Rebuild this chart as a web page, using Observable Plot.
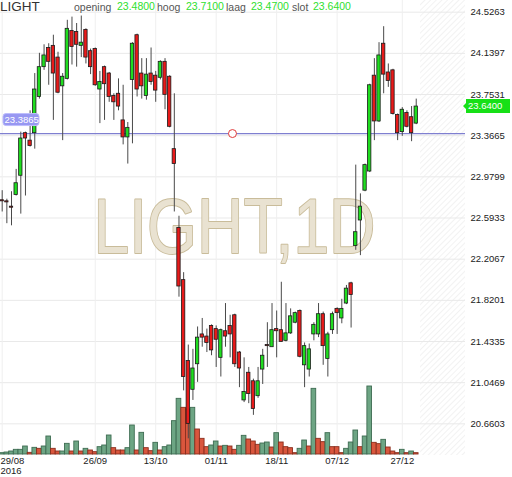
<!DOCTYPE html>
<html><head><meta charset="utf-8">
<script src="https://cdn.jsdelivr.net/npm/d3@7"></script>
<script src="https://cdn.jsdelivr.net/npm/@observablehq/plot@0.6"></script>
<style>
body{margin:0;background:#fff;}
#chart{position:relative;width:512px;height:477px;font-family:"Liberation Sans",Arial,sans-serif;}
#chart svg{position:absolute;left:0;top:0;}
</style></head><body><div id="chart"></div>
<script>
// ---- data ----
const symbol = "LIGHT", interval = "1D";
const opens = [22.76,22.75,22.70,22.81,22.99,23.39,23.32,23.39,23.73,24.01,
24.19,24.21,24.10,23.83,23.90,24.35,24.34,24.21,24.36,24.16,
24.18,23.80,24.01,23.95,23.74,23.76,23.51,23.35,23.89,24.31,
23.95,23.74,23.95,23.93,23.91,24.06,23.92,23.24,22.50,22.01,
21.25,20.98,21.22,21.50,21.48,21.58,21.55,21.28,21.53,21.58,
21.68,21.33,20.88,21.14,21.06,20.92,21.17,21.40,21.38,21.55,
21.54,21.44,21.51,21.61,21.72,21.21,21.17,21.50,21.50,21.69,
21.27,21.54,21.74,21.65,21.79,21.98,22.33,22.57,22.85,23.03,
23.93,23.50,24.23,23.96,23.98,23.56,23.40,23.58,23.54,23.48];
const highs = [22.85,22.77,22.84,23.05,23.40,23.40,23.60,23.95,24.14,24.22,
24.23,24.31,24.15,23.95,24.45,24.48,24.42,24.49,24.37,24.18,
24.19,23.97,24.02,23.96,23.76,23.90,23.84,23.49,24.24,24.32,
24.09,24.09,24.19,23.97,24.07,24.09,23.93,23.76,22.61,22.08,
21.40,21.36,21.57,21.65,21.55,21.59,21.58,21.55,21.79,21.68,
21.69,21.34,21.28,21.19,21.08,21.19,21.36,21.61,21.79,21.72,
21.99,21.79,21.74,21.71,21.73,21.42,21.41,21.61,21.79,21.71,
21.52,21.71,21.75,21.83,21.96,21.99,23.09,22.82,23.10,23.85,
24.09,24.24,24.39,24.04,23.99,23.57,23.63,23.60,23.64,23.71];
const lows = [22.65,22.54,22.52,22.80,22.63,22.80,23.26,23.24,23.71,23.98,
23.84,23.51,23.76,23.32,23.89,24.03,24.01,24.10,24.04,23.94,
23.83,23.48,23.51,23.68,23.51,23.60,23.28,23.10,23.29,23.73,
23.71,23.70,23.84,23.68,23.89,23.61,23.44,22.65,21.85,20.97,
20.52,20.88,21.05,21.38,21.33,21.30,21.19,21.10,21.38,21.28,
21.19,21.00,20.86,20.85,20.74,20.90,21.03,21.19,21.38,21.28,
21.43,21.43,21.50,21.60,21.28,21.00,21.10,21.44,21.47,21.21,
21.10,21.50,21.50,21.60,21.78,21.56,22.29,22.24,22.84,23.02,
23.32,23.49,23.76,23.82,23.56,23.32,23.36,23.44,23.31,23.47];
const closes = [22.75,22.74,22.69,22.92,23.34,23.34,23.27,23.80,24.01,24.12,
24.06,23.95,23.77,23.92,24.37,24.20,24.22,24.24,24.10,24.01,
23.84,23.87,23.85,23.73,23.68,23.64,23.35,23.44,24.23,23.80,
23.83,23.94,23.87,23.79,24.06,23.75,23.45,23.10,21.95,21.10,
20.66,21.18,21.47,21.47,21.42,21.35,21.45,21.54,21.48,21.50,
21.22,21.18,20.96,20.94,20.80,21.06,21.30,21.39,21.54,21.53,
21.43,21.51,21.67,21.70,21.29,21.39,21.36,21.59,21.69,21.39,
21.50,21.69,21.70,21.74,21.93,21.87,22.46,22.70,23.09,23.84,
23.50,24.12,23.94,23.88,23.57,23.39,23.61,23.45,23.39,23.64];
// volume in relative units (scale hidden in the reference)
const volumes = [4,6,9,14,14,24,5,20,17,24,
54,17,9,9,32,9,39,9,17,12,
7,22,27,57,19,12,12,19,87,12,
65,19,10,35,12,22,27,100,167,140,
135,140,75,47,22,27,39,24,26,24,
14,26,56,45,39,29,33,36,21,64,
36,22,19,4,17,42,24,197,47,37,
64,22,22,4,17,36,72,22,54,204,
35,31,44,21,9,4,14,4,9,4];
const volumeUp = [1,1,1,1,1,1,0,1,0,1,
1,0,0,1,1,0,1,0,1,0,
0,1,1,1,0,0,0,1,1,0,
1,0,0,1,0,1,1,1,1,0,
0,1,0,0,0,1,1,0,1,0,
0,1,1,0,0,0,1,1,0,1,
0,0,0,0,1,1,0,1,0,0,
1,0,0,0,1,1,1,0,1,1,
0,0,1,0,0,0,1,0,1,0];
const priceTicks = [24.5263,24.1397,23.7531,23.3665,22.9799,22.5933,22.2067,21.8201,21.4335,21.0469,20.6603];
const dateTickIdx = [0,20,33,46,59,72,86];
const dateTickLabels = ["29/08","26/09","13/10","01/11","18/11","07/12","27/12"];
const yearLabel = "2016";
const refLevel = 23.3865;
const alertIdx = 49.5;
const headerLabels = ["opening","hoog","laag","slot"];

// ---- layout ----
const W = 512, H = 477, mL = 0, mR = 47, mT = 0, mB = 22;
const xDomain = [-0.365, 99.59];
const yDomain = [20.363, 24.636];
const font = "Liberation Sans, Arial, sans-serif";
const baseStyle = {fontFamily: font, fontSize: "9.5px", background: "transparent", color: "#222"};

const n = closes.length;
const candles = closes.map((c, i) => ({i, o: opens[i], h: highs[i], l: lows[i], c}));
const vols = volumes.map((v, i) => ({i, v, up: volumeUp[i] === 1}));
const chart = document.getElementById("chart");

// Layer 1: grid, axes, watermark
const p1 = Plot.plot({
  width: W, height: H, marginLeft: mL, marginRight: mR, marginTop: mT, marginBottom: mB,
  style: {...baseStyle, background: "white"},
  x: {domain: xDomain, axis: null},
  y: {domain: yDomain, axis: null},
  marks: [
    Plot.gridY(priceTicks, {stroke: "#e9e9e9", strokeOpacity: 1}),
    Plot.gridX(dateTickIdx, {stroke: "#efefef", strokeOpacity: 1}),
    Plot.axisY(priceTicks, {anchor: "right", tickSize: 0, tickPadding: 5, tickFormat: d => d.toFixed(4), label: null, fill: "#222", fontSize: 9.5}),
    Plot.text(dateTickIdx.slice(1), {x: d => d, text: (d, k) => dateTickLabels[k + 1], frameAnchor: "bottom", lineAnchor: "top", dy: 2, fill: "#222", fontSize: 9.5}),
    Plot.text([dateTickIdx[0]], {x: d => d, text: () => dateTickLabels[0] + "\n" + yearLabel, frameAnchor: "bottom", lineAnchor: "top", textAnchor: "start", dx: -1.7, dy: 2, lineHeight: 1, fill: "#222", fontSize: 9.5}),
    Plot.text([symbol + "," + interval], {frameAnchor: "middle", dx: 1.5, dy: 0, fontSize: 78, fill: "#e9e2d1", stroke: "#c9bc9a", strokeWidth: 2, fontFamily: font})
  ]
});
chart.appendChild(p1);
{
  const s = d3.select(p1);
  s.selectAll("text").filter(function(){ return this.textContent === symbol + "," + interval; })
    .attr("textLength", 282).attr("lengthAdjust", "spacingAndGlyphs");
  const defs = s.insert("defs", ":first-child");
  const pat = defs.append("pattern").attr("id", "hatch").attr("width", 4).attr("height", 4)
    .attr("patternUnits", "userSpaceOnUse").attr("patternTransform", "rotate(45)");
  pat.append("line").attr("x1", 0).attr("y1", 0).attr("x2", 0).attr("y2", 4).attr("stroke", "#e6e6e6").attr("stroke-width", 1);
  const hx = p1.scale("x").apply(n - 0.5) + 2;
  s.insert("rect", "defs + *").attr("x", hx).attr("y", mT).attr("width", W - mR - hx).attr("height", H - mB - mT).attr("fill", "url(#hatch)");
}

// Layer 2: volume bars
const p2 = Plot.plot({
  width: W, height: H, marginLeft: mL, marginRight: mR, marginTop: mT, marginBottom: mB + 1,
  style: baseStyle,
  x: {domain: xDomain, axis: null},
  y: {domain: [0, 1362], axis: null},
  color: {type: "identity"},
  marks: [
    Plot.rect(vols, {x1: d => d.i - 0.5, x2: d => d.i + 0.5, y1: 0, y2: "v",
      fill: d => d.up ? "#6da584" : "#d9563d",
      stroke: d => d.up ? "#3e6c52" : "#8a2e1d", strokeWidth: 0.9})
  ]
});
chart.appendChild(p2);

// Layer 3: candles, reference line, labels
const p3 = Plot.plot({
  width: W, height: H, marginLeft: mL, marginRight: mR, marginTop: mT, marginBottom: mB,
  style: baseStyle,
  x: {domain: xDomain, axis: null},
  y: {domain: yDomain, axis: null},
  color: {type: "identity"},
  marks: [
    Plot.ruleY([refLevel], {stroke: "#7f7fd0", strokeWidth: 1.3}),
    Plot.ruleX(candles, {x: "i", y1: "l", y2: "h", stroke: "#4a4a4a", strokeWidth: 1}),
    Plot.rect(candles, {x1: d => d.i - 0.36, x2: d => d.i + 0.36, y1: "o", y2: "c",
      fill: d => d.c >= d.o ? "#1fdd1f" : "#e81a1a", stroke: "#1a1a1a", strokeWidth: 0.8}),
    Plot.dot([{i: alertIdx, p: refLevel}], {x: "i", y: "p", r: 4, stroke: "#e03a3a", fill: "white", strokeWidth: 1})
  ]
});
chart.appendChild(p3);
{
  const s = d3.select(p3);
  const ys = p3.scale("y");
  const txt = (x, y, size, fill, t) => s.append("text").attr("x", x).attr("y", y)
    .attr("text-anchor", "start").attr("fill", fill).attr("font-size", size)
    .attr("font-family", font).text(t);
  // reference level label
  const ly = ys.apply(refLevel);
  s.append("rect").attr("x", 3).attr("y", ly - 19.5).attr("width", 36).attr("height", 12).attr("rx", 3)
    .attr("fill", "#9797f2").attr("stroke", "#bdbdfc");
  txt(4.5, ly - 10.3, 9.5, "white", refLevel.toFixed(4));
  // last price label
  const last = closes[n - 1];
  const py = ys.apply(last);
  const bx = W - mR + 1;
  s.append("path").attr("d", `M${bx - 3},${py} L${bx},${py - 3} L${bx},${py - 7} L${bx + 44},${py - 7} L${bx + 44},${py + 7} L${bx},${py + 7} L${bx},${py + 3} Z`)
    .attr("fill", "#17e017");
  txt(bx + 2, py + 3.4, 9.5, "white", last.toFixed(4));
  // header
  txt(0, 11, 13.5, "#333", symbol);
  const vals = [opens[n - 1], highs[n - 1], lows[n - 1], closes[n - 1]];
  const lx = [74, 157, 226, 292], vx = [117, 186, 251, 313];
  headerLabels.forEach((t, k) => {
    txt(lx[k], 10.5, 10.5, "#555", t);
    txt(vx[k], 9.5, 10.5, "#2ee02e", vals[k].toFixed(4));
  });
}
</script>
</body></html>
